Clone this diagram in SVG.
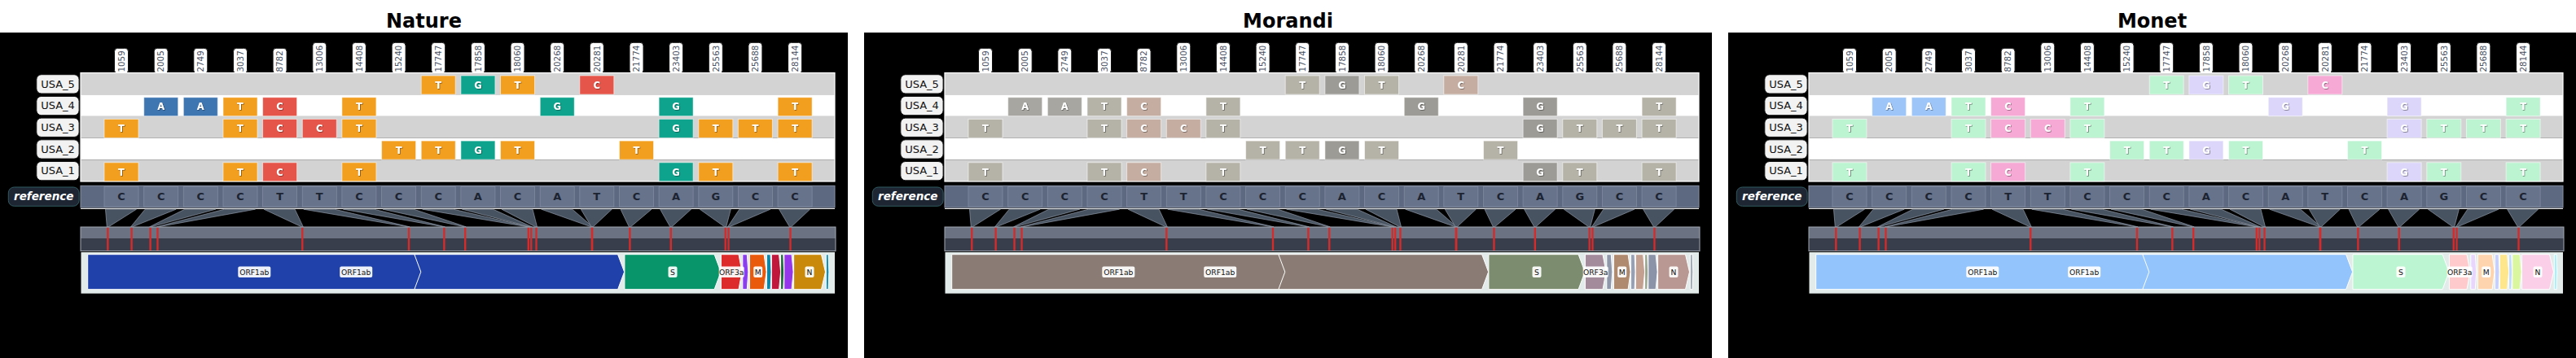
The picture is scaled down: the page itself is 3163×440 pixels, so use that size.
<svg xmlns="http://www.w3.org/2000/svg" width="3163" height="440" viewBox="0 0 3163 440">
<defs>
<filter id="sh" x="-30%" y="-30%" width="160%" height="160%"><feDropShadow dx="0.7" dy="0.7" stdDeviation="0.4" flood-color="#000" flood-opacity="0.55"/></filter>
<style>
text{font-family:"DejaVu Sans","Liberation Sans",sans-serif}
.title{font-size:24px;font-weight:bold;fill:#000;text-anchor:middle}
.bg{fill:#000}
.rowG{fill:#d3d3d3}
.rowW{fill:#fff}
.frame{fill:none;stroke:#fff;stroke-width:1.2}
.poslab{fill:#fff;stroke:#111;stroke-width:1}
.postx{font-size:10.3px;fill:#4a5263}
.rlab{fill:#f2f2f2;stroke:#111;stroke-width:1}
.rltx{font-size:13px;fill:#111;text-anchor:middle}
.cell{stroke:rgba(255,255,255,0.55);stroke-width:1}
.ctx{font-size:11.5px;font-weight:bold;fill:#fff;text-anchor:middle;filter:url(#sh)}
.refbar{fill:#5d6981;stroke:#8791a3;stroke-width:1}
.refcell{fill:#67738b;stroke:#7f8aa0;stroke-width:0.8}
.reftx{font-size:13px;font-weight:bold;fill:#1c2331;text-anchor:middle}
.reflab{fill:#1e2633;stroke:#2f5a60;stroke-width:1}
.refltx{font-size:13.5px;font-weight:bold;font-style:italic;fill:#fff;text-anchor:middle}
.wline{stroke:#fff;stroke-width:1}
.tri{fill:#485361;stroke:#8e98a6;stroke-width:0.7}
.ovt{fill:#6b7383}
.ovb{fill:#383e4c}
.ovf{fill:none;stroke:#a3a9b3;stroke-width:1}
.mk{fill:#d42b2b}
.gtrack{fill:#e3eaea}
.gene{stroke:#fff;stroke-width:1}
.glab{fill:#fff;fill-opacity:0.92}
.gltx{font-size:9.2px;fill:#111;text-anchor:middle}
.nat .cT{fill:#f29e1f}.nat .cC{fill:#e5554a}.nat .cA{fill:#3e76b2}.nat .cG{fill:#0ea38c}
.mor .cT{fill:#b5b3a7}.mor .cC{fill:#c5ada1}.mor .cA{fill:#a8a6a0}.mor .cG{fill:#9d9b95}
.mon .cT{fill:#bcf3d1}.mon .cC{fill:#f5a9d4}.mon .cA{fill:#9dc5f7}.mon .cG{fill:#dbd6fa}
.nat .g1{fill:#1f41a9}.nat .gS{fill:#079569}.nat .g3a{fill:#dd2a2a}.nat .gE{fill:#8b3ef0}.nat .gM{fill:#ea5a0c}.nat .g6{fill:#0f86a6}.nat .g7a{fill:#c0173d}.nat .g7b{fill:#166a38}.nat .g8{fill:#9636ea}.nat .gN{fill:#c98a0b}.nat .g10{fill:#1291b5}
.mor .g1{fill:#8a7c74}.mor .gS{fill:#7b8d6e}.mor .g3a{fill:#a38b9c}.mor .gE{fill:#8e98aa}.mor .gM{fill:#b08a6f}.mor .g6{fill:#96a1b6}.mor .g7a{fill:#c3a090}.mor .g7b{fill:#9aa590}.mor .g8{fill:#8b93a9}.mor .gN{fill:#b99893}.mor .g10{fill:#a3acb5}
.mon .g1{fill:#93c4fb}.mon .gS{fill:#bcf5d1}.mon .g3a{fill:#fecacb}.mon .gE{fill:#e9d6fd}.mon .gM{fill:#fdd4ad}.mon .g6{fill:#c6d0fb}.mon .g7a{fill:#fde68b}.mon .g7b{fill:#c1dbfd}.mon .g8{fill:#daf69e}.mon .gN{fill:#fbcfe7}.mon .g10{fill:#a6f1fb}
</style>
</defs>
<rect x="0" y="0" width="3163" height="440" fill="#fff"/>

<!-- ================= NATURE ================= -->
<g id="panel-nature" class="nat">
<text class="title" x="520.5" y="33.5">Nature</text>
<rect class="bg" x="0" y="40" width="1041" height="400"/>
<g id="nature-positions">
<rect class="poslab" x="140.5" y="59.3" width="17" height="31" rx="4"/><text class="postx" transform="translate(152.7,88.5) rotate(-90)">1059</text>
<rect class="poslab" x="189.2" y="59.3" width="17" height="31" rx="4"/><text class="postx" transform="translate(201.4,88.5) rotate(-90)">2005</text>
<rect class="poslab" x="237.8" y="59.3" width="17" height="31" rx="4"/><text class="postx" transform="translate(250.0,88.5) rotate(-90)">2749</text>
<rect class="poslab" x="286.5" y="59.3" width="17" height="31" rx="4"/><text class="postx" transform="translate(298.7,88.5) rotate(-90)">3037</text>
<rect class="poslab" x="335.1" y="59.3" width="17" height="31" rx="4"/><text class="postx" transform="translate(347.3,88.5) rotate(-90)">8782</text>
<rect class="poslab" x="383.8" y="52.3" width="17" height="38" rx="4"/><text class="postx" transform="translate(396.0,88.5) rotate(-90)">13006</text>
<rect class="poslab" x="432.4" y="52.3" width="17" height="38" rx="4"/><text class="postx" transform="translate(444.6,88.5) rotate(-90)">14408</text>
<rect class="poslab" x="481.1" y="52.3" width="17" height="38" rx="4"/><text class="postx" transform="translate(493.3,88.5) rotate(-90)">15240</text>
<rect class="poslab" x="529.7" y="52.3" width="17" height="38" rx="4"/><text class="postx" transform="translate(541.9,88.5) rotate(-90)">17747</text>
<rect class="poslab" x="578.4" y="52.3" width="17" height="38" rx="4"/><text class="postx" transform="translate(590.6,88.5) rotate(-90)">17858</text>
<rect class="poslab" x="627.0" y="52.3" width="17" height="38" rx="4"/><text class="postx" transform="translate(639.2,88.5) rotate(-90)">18060</text>
<rect class="poslab" x="675.7" y="52.3" width="17" height="38" rx="4"/><text class="postx" transform="translate(687.9,88.5) rotate(-90)">20268</text>
<rect class="poslab" x="724.3" y="52.3" width="17" height="38" rx="4"/><text class="postx" transform="translate(736.5,88.5) rotate(-90)">20281</text>
<rect class="poslab" x="773.0" y="52.3" width="17" height="38" rx="4"/><text class="postx" transform="translate(785.2,88.5) rotate(-90)">21774</text>
<rect class="poslab" x="821.6" y="52.3" width="17" height="38" rx="4"/><text class="postx" transform="translate(833.8,88.5) rotate(-90)">23403</text>
<rect class="poslab" x="870.3" y="52.3" width="17" height="38" rx="4"/><text class="postx" transform="translate(882.5,88.5) rotate(-90)">25563</text>
<rect class="poslab" x="918.9" y="52.3" width="17" height="38" rx="4"/><text class="postx" transform="translate(931.1,88.5) rotate(-90)">25688</text>
<rect class="poslab" x="967.6" y="52.3" width="17" height="38" rx="4"/><text class="postx" transform="translate(979.8,88.5) rotate(-90)">28144</text>
</g>
<g id="nature-matrix">
<rect class="rowG" x="99" y="89.5" width="926" height="26.7"/>
<rect class="rowW" x="99" y="116.2" width="926" height="26.7"/>
<rect class="rowG" x="99" y="142.9" width="926" height="26.7"/>
<rect class="rowW" x="99" y="169.6" width="926" height="26.7"/>
<rect class="rowG" x="99" y="196.3" width="926" height="26.7"/>
<rect class="frame" x="99" y="89.5" width="926" height="133.5"/>
<g id="nature-row-USA_5">
<rect class="rlab" x="44.8" y="91.7" width="52.3" height="23.3" rx="6"/><text class="rltx" x="71" y="107.5">USA_5</text>
<rect class="cell cT" x="517.2" y="93" width="42" height="23"/><text class="ctx" x="538.2" y="108.7">T</text>
<rect class="cell cG" x="565.9" y="93" width="42" height="23"/><text class="ctx" x="586.9" y="108.7">G</text>
<rect class="cell cT" x="614.5" y="93" width="42" height="23"/><text class="ctx" x="635.5" y="108.7">T</text>
<rect class="cell cC" x="711.8" y="93" width="42" height="23"/><text class="ctx" x="732.8" y="108.7">C</text>
</g>
<g id="nature-row-USA_4">
<rect class="rlab" x="44.8" y="118.4" width="52.3" height="23.3" rx="6"/><text class="rltx" x="71" y="134.2">USA_4</text>
<rect class="cell cA" x="176.7" y="119.7" width="42" height="23"/><text class="ctx" x="197.7" y="135.4">A</text>
<rect class="cell cA" x="225.3" y="119.7" width="42" height="23"/><text class="ctx" x="246.3" y="135.4">A</text>
<rect class="cell cT" x="274.0" y="119.7" width="42" height="23"/><text class="ctx" x="295.0" y="135.4">T</text>
<rect class="cell cC" x="322.6" y="119.7" width="42" height="23"/><text class="ctx" x="343.6" y="135.4">C</text>
<rect class="cell cT" x="419.9" y="119.7" width="42" height="23"/><text class="ctx" x="440.9" y="135.4">T</text>
<rect class="cell cG" x="663.2" y="119.7" width="42" height="23"/><text class="ctx" x="684.2" y="135.4">G</text>
<rect class="cell cG" x="809.1" y="119.7" width="42" height="23"/><text class="ctx" x="830.1" y="135.4">G</text>
<rect class="cell cT" x="955.1" y="119.7" width="42" height="23"/><text class="ctx" x="976.1" y="135.4">T</text>
</g>
<g id="nature-row-USA_3">
<rect class="rlab" x="44.8" y="145.1" width="52.3" height="23.3" rx="6"/><text class="rltx" x="71" y="160.9">USA_3</text>
<rect class="cell cT" x="128.0" y="146.4" width="42" height="23"/><text class="ctx" x="149.0" y="162.1">T</text>
<rect class="cell cT" x="274.0" y="146.4" width="42" height="23"/><text class="ctx" x="295.0" y="162.1">T</text>
<rect class="cell cC" x="322.6" y="146.4" width="42" height="23"/><text class="ctx" x="343.6" y="162.1">C</text>
<rect class="cell cC" x="371.3" y="146.4" width="42" height="23"/><text class="ctx" x="392.3" y="162.1">C</text>
<rect class="cell cT" x="419.9" y="146.4" width="42" height="23"/><text class="ctx" x="440.9" y="162.1">T</text>
<rect class="cell cG" x="809.1" y="146.4" width="42" height="23"/><text class="ctx" x="830.1" y="162.1">G</text>
<rect class="cell cT" x="857.8" y="146.4" width="42" height="23"/><text class="ctx" x="878.8" y="162.1">T</text>
<rect class="cell cT" x="906.4" y="146.4" width="42" height="23"/><text class="ctx" x="927.4" y="162.1">T</text>
<rect class="cell cT" x="955.1" y="146.4" width="42" height="23"/><text class="ctx" x="976.1" y="162.1">T</text>
</g>
<g id="nature-row-USA_2">
<rect class="rlab" x="44.8" y="171.8" width="52.3" height="23.3" rx="6"/><text class="rltx" x="71" y="187.6">USA_2</text>
<rect class="cell cT" x="468.6" y="173.1" width="42" height="23"/><text class="ctx" x="489.6" y="188.8">T</text>
<rect class="cell cT" x="517.2" y="173.1" width="42" height="23"/><text class="ctx" x="538.2" y="188.8">T</text>
<rect class="cell cG" x="565.9" y="173.1" width="42" height="23"/><text class="ctx" x="586.9" y="188.8">G</text>
<rect class="cell cT" x="614.5" y="173.1" width="42" height="23"/><text class="ctx" x="635.5" y="188.8">T</text>
<rect class="cell cT" x="760.5" y="173.1" width="42" height="23"/><text class="ctx" x="781.5" y="188.8">T</text>
</g>
<g id="nature-row-USA_1">
<rect class="rlab" x="44.8" y="198.5" width="52.3" height="23.3" rx="6"/><text class="rltx" x="71" y="214.3">USA_1</text>
<rect class="cell cT" x="128.0" y="199.8" width="42" height="23"/><text class="ctx" x="149.0" y="215.5">T</text>
<rect class="cell cT" x="274.0" y="199.8" width="42" height="23"/><text class="ctx" x="295.0" y="215.5">T</text>
<rect class="cell cC" x="322.6" y="199.8" width="42" height="23"/><text class="ctx" x="343.6" y="215.5">C</text>
<rect class="cell cT" x="419.9" y="199.8" width="42" height="23"/><text class="ctx" x="440.9" y="215.5">T</text>
<rect class="cell cG" x="809.1" y="199.8" width="42" height="23"/><text class="ctx" x="830.1" y="215.5">G</text>
<rect class="cell cT" x="857.8" y="199.8" width="42" height="23"/><text class="ctx" x="878.8" y="215.5">T</text>
<rect class="cell cT" x="955.1" y="199.8" width="42" height="23"/><text class="ctx" x="976.1" y="215.5">T</text>
</g>
</g>
<g id="nature-reference">
<rect class="reflab" x="10.3" y="230" width="86.8" height="23.3" rx="7"/><text class="refltx" x="53.7" y="246.3">reference</text>
<rect class="refbar" x="99" y="228.3" width="926" height="26.7"/>
<rect class="refcell" x="128.0" y="229.5" width="42" height="24.5"/><text class="reftx" x="149.0" y="246.4">C</text>
<rect class="refcell" x="176.7" y="229.5" width="42" height="24.5"/><text class="reftx" x="197.7" y="246.4">C</text>
<rect class="refcell" x="225.3" y="229.5" width="42" height="24.5"/><text class="reftx" x="246.3" y="246.4">C</text>
<rect class="refcell" x="274.0" y="229.5" width="42" height="24.5"/><text class="reftx" x="295.0" y="246.4">C</text>
<rect class="refcell" x="322.6" y="229.5" width="42" height="24.5"/><text class="reftx" x="343.6" y="246.4">T</text>
<rect class="refcell" x="371.3" y="229.5" width="42" height="24.5"/><text class="reftx" x="392.3" y="246.4">T</text>
<rect class="refcell" x="419.9" y="229.5" width="42" height="24.5"/><text class="reftx" x="440.9" y="246.4">C</text>
<rect class="refcell" x="468.6" y="229.5" width="42" height="24.5"/><text class="reftx" x="489.6" y="246.4">C</text>
<rect class="refcell" x="517.2" y="229.5" width="42" height="24.5"/><text class="reftx" x="538.2" y="246.4">C</text>
<rect class="refcell" x="565.9" y="229.5" width="42" height="24.5"/><text class="reftx" x="586.9" y="246.4">A</text>
<rect class="refcell" x="614.5" y="229.5" width="42" height="24.5"/><text class="reftx" x="635.5" y="246.4">C</text>
<rect class="refcell" x="663.2" y="229.5" width="42" height="24.5"/><text class="reftx" x="684.2" y="246.4">A</text>
<rect class="refcell" x="711.8" y="229.5" width="42" height="24.5"/><text class="reftx" x="732.8" y="246.4">T</text>
<rect class="refcell" x="760.5" y="229.5" width="42" height="24.5"/><text class="reftx" x="781.5" y="246.4">C</text>
<rect class="refcell" x="809.1" y="229.5" width="42" height="24.5"/><text class="reftx" x="830.1" y="246.4">A</text>
<rect class="refcell" x="857.8" y="229.5" width="42" height="24.5"/><text class="reftx" x="878.8" y="246.4">G</text>
<rect class="refcell" x="906.4" y="229.5" width="42" height="24.5"/><text class="reftx" x="927.4" y="246.4">C</text>
<rect class="refcell" x="955.1" y="229.5" width="42" height="24.5"/><text class="reftx" x="976.1" y="246.4">C</text>
<line class="wline" x1="99" y1="256.4" x2="1025" y2="256.4"/>
</g>
<g id="nature-connectors">
<polygon class="tri" points="129.5,257.2 167.5,257.2 133.3,278.8 131.3,278.8"/>
<polygon class="tri" points="178.2,257.2 216.2,257.2 162.6,278.8 160.6,278.8"/>
<polygon class="tri" points="226.8,257.2 264.8,257.2 185.6,278.8 183.6,278.8"/>
<polygon class="tri" points="275.5,257.2 313.5,257.2 194.5,278.8 192.5,278.8"/>
<polygon class="tri" points="324.1,257.2 362.1,257.2 372.3,278.8 370.3,278.8"/>
<polygon class="tri" points="372.8,257.2 410.8,257.2 503.0,278.8 501.0,278.8"/>
<polygon class="tri" points="421.4,257.2 459.4,257.2 546.4,278.8 544.4,278.8"/>
<polygon class="tri" points="470.1,257.2 508.1,257.2 572.2,278.8 570.2,278.8"/>
<polygon class="tri" points="518.7,257.2 556.7,257.2 649.8,278.8 647.8,278.8"/>
<polygon class="tri" points="567.4,257.2 605.4,257.2 653.2,278.8 651.2,278.8"/>
<polygon class="tri" points="616.0,257.2 654.0,257.2 659.5,278.8 657.5,278.8"/>
<polygon class="tri" points="664.7,257.2 702.7,257.2 727.8,278.8 725.8,278.8"/>
<polygon class="tri" points="713.3,257.2 751.3,257.2 728.2,278.8 726.2,278.8"/>
<polygon class="tri" points="762.0,257.2 800.0,257.2 774.4,278.8 772.4,278.8"/>
<polygon class="tri" points="810.6,257.2 848.6,257.2 824.8,278.8 822.8,278.8"/>
<polygon class="tri" points="859.3,257.2 897.3,257.2 891.7,278.8 889.7,278.8"/>
<polygon class="tri" points="907.9,257.2 945.9,257.2 895.5,278.8 893.5,278.8"/>
<polygon class="tri" points="956.6,257.2 994.6,257.2 971.5,278.8 969.5,278.8"/>
</g>
<g id="nature-overview">
<rect class="ovt" x="99" y="279" width="927" height="14.5"/>
<rect class="ovb" x="99" y="293.5" width="927" height="15"/>
<rect class="ovf" x="99" y="279" width="927" height="29.5"/>
<rect class="mk" x="131.1" y="279.8" width="2.4" height="28"/>
<rect class="mk" x="160.4" y="279.8" width="2.4" height="28"/>
<rect class="mk" x="183.4" y="279.8" width="2.4" height="28"/>
<rect class="mk" x="192.3" y="279.8" width="2.4" height="28"/>
<rect class="mk" x="370.1" y="279.8" width="2.4" height="28"/>
<rect class="mk" x="500.8" y="279.8" width="2.4" height="28"/>
<rect class="mk" x="544.2" y="279.8" width="2.4" height="28"/>
<rect class="mk" x="570.0" y="279.8" width="2.4" height="28"/>
<rect class="mk" x="647.6" y="279.8" width="2.4" height="28"/>
<rect class="mk" x="651.0" y="279.8" width="2.4" height="28"/>
<rect class="mk" x="657.3" y="279.8" width="2.4" height="28"/>
<rect class="mk" x="725.6" y="279.8" width="2.4" height="28"/>
<rect class="mk" x="726.0" y="279.8" width="2.4" height="28"/>
<rect class="mk" x="772.2" y="279.8" width="2.4" height="28"/>
<rect class="mk" x="822.6" y="279.8" width="2.4" height="28"/>
<rect class="mk" x="889.5" y="279.8" width="2.4" height="28"/>
<rect class="mk" x="893.3" y="279.8" width="2.4" height="28"/>
<rect class="mk" x="969.3" y="279.8" width="2.4" height="28"/>
</g>
<g id="nature-genes">
<rect class="gtrack" x="99.5" y="310" width="925.5" height="50.7"/>
<polygon class="gene g1" points="508.8,312.7 758.6,312.7 766.6,334.2 758.6,355.7 508.8,355.7"/>
<polygon class="gene g1" points="107.7,312.7 508.8,312.7 516.8,334.2 508.8,355.7 107.7,355.7"/>
<polygon class="gene gS" points="766.9,312.7 877.1,312.7 885.1,334.2 877.1,355.7 766.9,355.7"/>
<polygon class="gene g3a" points="885.4,312.7 907,312.7 911,334.2 907,355.7 885.4,355.7"/>
<polygon class="gene gE" points="911.8,312.7 917.3,312.7 918.8,334.2 917.3,355.7 911.8,355.7"/>
<polygon class="gene gM" points="920.4,312.7 938.1,312.7 941.1,334.2 938.1,355.7 920.4,355.7"/>
<polygon class="gene g6" points="941.4,312.7 946.1,312.7 947.1,334.2 946.1,355.7 941.4,355.7"/>
<polygon class="gene g7a" points="947.3,312.7 956.6,312.7 958.6,334.2 956.6,355.7 947.3,355.7"/>
<polygon class="gene g7b" points="958.6,312.7 961.8,312.7 962.6,334.2 961.8,355.7 958.6,355.7"/>
<polygon class="gene g8" points="962.8,312.7 972.1,312.7 974.1,334.2 972.1,355.7 962.8,355.7"/>
<polygon class="gene gN" points="974.6,312.7 1008.5,312.7 1013.5,334.2 1008.5,355.7 974.6,355.7"/>
<polygon class="gene g10" points="1014.3,312.7 1017.2,312.7 1017.9,334.2 1017.2,355.7 1014.3,355.7"/>
<rect class="glab" x="292.3" y="327.5" width="40" height="13.4" rx="2"/><text class="gltx" x="312.3" y="337.6">ORF1ab</text>
<rect class="glab" x="417.2" y="327.5" width="40" height="13.4" rx="2"/><text class="gltx" x="437.2" y="337.6">ORF1ab</text>
<rect class="glab" x="820.5" y="327.5" width="11" height="13.4" rx="2"/><text class="gltx" x="826" y="337.6">S</text>
<rect class="glab" x="882.7" y="327.5" width="31" height="13.4" rx="2"/><text class="gltx" x="898.2" y="337.6">ORF3a</text>
<rect class="glab" x="925.2" y="327.5" width="11" height="13.4" rx="2"/><text class="gltx" x="930.7" y="337.6">M</text>
<rect class="glab" x="988.5" y="327.5" width="11" height="13.4" rx="2"/><text class="gltx" x="994" y="337.6">N</text>
</g>
</g>

<!-- ================= MORANDI ================= -->
<g id="panel-morandi" class="mor" transform="translate(1061,0)">
<text class="title" x="520.5" y="33.5">Morandi</text>
<rect class="bg" x="0" y="40" width="1041" height="400"/>
<g id="morandi-positions">
<rect class="poslab" x="140.5" y="59.3" width="17" height="31" rx="4"/><text class="postx" transform="translate(152.7,88.5) rotate(-90)">1059</text>
<rect class="poslab" x="189.2" y="59.3" width="17" height="31" rx="4"/><text class="postx" transform="translate(201.4,88.5) rotate(-90)">2005</text>
<rect class="poslab" x="237.8" y="59.3" width="17" height="31" rx="4"/><text class="postx" transform="translate(250.0,88.5) rotate(-90)">2749</text>
<rect class="poslab" x="286.5" y="59.3" width="17" height="31" rx="4"/><text class="postx" transform="translate(298.7,88.5) rotate(-90)">3037</text>
<rect class="poslab" x="335.1" y="59.3" width="17" height="31" rx="4"/><text class="postx" transform="translate(347.3,88.5) rotate(-90)">8782</text>
<rect class="poslab" x="383.8" y="52.3" width="17" height="38" rx="4"/><text class="postx" transform="translate(396.0,88.5) rotate(-90)">13006</text>
<rect class="poslab" x="432.4" y="52.3" width="17" height="38" rx="4"/><text class="postx" transform="translate(444.6,88.5) rotate(-90)">14408</text>
<rect class="poslab" x="481.1" y="52.3" width="17" height="38" rx="4"/><text class="postx" transform="translate(493.3,88.5) rotate(-90)">15240</text>
<rect class="poslab" x="529.7" y="52.3" width="17" height="38" rx="4"/><text class="postx" transform="translate(541.9,88.5) rotate(-90)">17747</text>
<rect class="poslab" x="578.4" y="52.3" width="17" height="38" rx="4"/><text class="postx" transform="translate(590.6,88.5) rotate(-90)">17858</text>
<rect class="poslab" x="627.0" y="52.3" width="17" height="38" rx="4"/><text class="postx" transform="translate(639.2,88.5) rotate(-90)">18060</text>
<rect class="poslab" x="675.7" y="52.3" width="17" height="38" rx="4"/><text class="postx" transform="translate(687.9,88.5) rotate(-90)">20268</text>
<rect class="poslab" x="724.3" y="52.3" width="17" height="38" rx="4"/><text class="postx" transform="translate(736.5,88.5) rotate(-90)">20281</text>
<rect class="poslab" x="773.0" y="52.3" width="17" height="38" rx="4"/><text class="postx" transform="translate(785.2,88.5) rotate(-90)">21774</text>
<rect class="poslab" x="821.6" y="52.3" width="17" height="38" rx="4"/><text class="postx" transform="translate(833.8,88.5) rotate(-90)">23403</text>
<rect class="poslab" x="870.3" y="52.3" width="17" height="38" rx="4"/><text class="postx" transform="translate(882.5,88.5) rotate(-90)">25563</text>
<rect class="poslab" x="918.9" y="52.3" width="17" height="38" rx="4"/><text class="postx" transform="translate(931.1,88.5) rotate(-90)">25688</text>
<rect class="poslab" x="967.6" y="52.3" width="17" height="38" rx="4"/><text class="postx" transform="translate(979.8,88.5) rotate(-90)">28144</text>
</g>
<g id="morandi-matrix">
<rect class="rowG" x="99" y="89.5" width="926" height="26.7"/>
<rect class="rowW" x="99" y="116.2" width="926" height="26.7"/>
<rect class="rowG" x="99" y="142.9" width="926" height="26.7"/>
<rect class="rowW" x="99" y="169.6" width="926" height="26.7"/>
<rect class="rowG" x="99" y="196.3" width="926" height="26.7"/>
<rect class="frame" x="99" y="89.5" width="926" height="133.5"/>
<g id="morandi-row-USA_5">
<rect class="rlab" x="44.8" y="91.7" width="52.3" height="23.3" rx="6"/><text class="rltx" x="71" y="107.5">USA_5</text>
<rect class="cell cT" x="517.2" y="93" width="42" height="23"/><text class="ctx" x="538.2" y="108.7">T</text>
<rect class="cell cG" x="565.9" y="93" width="42" height="23"/><text class="ctx" x="586.9" y="108.7">G</text>
<rect class="cell cT" x="614.5" y="93" width="42" height="23"/><text class="ctx" x="635.5" y="108.7">T</text>
<rect class="cell cC" x="711.8" y="93" width="42" height="23"/><text class="ctx" x="732.8" y="108.7">C</text>
</g>
<g id="morandi-row-USA_4">
<rect class="rlab" x="44.8" y="118.4" width="52.3" height="23.3" rx="6"/><text class="rltx" x="71" y="134.2">USA_4</text>
<rect class="cell cA" x="176.7" y="119.7" width="42" height="23"/><text class="ctx" x="197.7" y="135.4">A</text>
<rect class="cell cA" x="225.3" y="119.7" width="42" height="23"/><text class="ctx" x="246.3" y="135.4">A</text>
<rect class="cell cT" x="274.0" y="119.7" width="42" height="23"/><text class="ctx" x="295.0" y="135.4">T</text>
<rect class="cell cC" x="322.6" y="119.7" width="42" height="23"/><text class="ctx" x="343.6" y="135.4">C</text>
<rect class="cell cT" x="419.9" y="119.7" width="42" height="23"/><text class="ctx" x="440.9" y="135.4">T</text>
<rect class="cell cG" x="663.2" y="119.7" width="42" height="23"/><text class="ctx" x="684.2" y="135.4">G</text>
<rect class="cell cG" x="809.1" y="119.7" width="42" height="23"/><text class="ctx" x="830.1" y="135.4">G</text>
<rect class="cell cT" x="955.1" y="119.7" width="42" height="23"/><text class="ctx" x="976.1" y="135.4">T</text>
</g>
<g id="morandi-row-USA_3">
<rect class="rlab" x="44.8" y="145.1" width="52.3" height="23.3" rx="6"/><text class="rltx" x="71" y="160.9">USA_3</text>
<rect class="cell cT" x="128.0" y="146.4" width="42" height="23"/><text class="ctx" x="149.0" y="162.1">T</text>
<rect class="cell cT" x="274.0" y="146.4" width="42" height="23"/><text class="ctx" x="295.0" y="162.1">T</text>
<rect class="cell cC" x="322.6" y="146.4" width="42" height="23"/><text class="ctx" x="343.6" y="162.1">C</text>
<rect class="cell cC" x="371.3" y="146.4" width="42" height="23"/><text class="ctx" x="392.3" y="162.1">C</text>
<rect class="cell cT" x="419.9" y="146.4" width="42" height="23"/><text class="ctx" x="440.9" y="162.1">T</text>
<rect class="cell cG" x="809.1" y="146.4" width="42" height="23"/><text class="ctx" x="830.1" y="162.1">G</text>
<rect class="cell cT" x="857.8" y="146.4" width="42" height="23"/><text class="ctx" x="878.8" y="162.1">T</text>
<rect class="cell cT" x="906.4" y="146.4" width="42" height="23"/><text class="ctx" x="927.4" y="162.1">T</text>
<rect class="cell cT" x="955.1" y="146.4" width="42" height="23"/><text class="ctx" x="976.1" y="162.1">T</text>
</g>
<g id="morandi-row-USA_2">
<rect class="rlab" x="44.8" y="171.8" width="52.3" height="23.3" rx="6"/><text class="rltx" x="71" y="187.6">USA_2</text>
<rect class="cell cT" x="468.6" y="173.1" width="42" height="23"/><text class="ctx" x="489.6" y="188.8">T</text>
<rect class="cell cT" x="517.2" y="173.1" width="42" height="23"/><text class="ctx" x="538.2" y="188.8">T</text>
<rect class="cell cG" x="565.9" y="173.1" width="42" height="23"/><text class="ctx" x="586.9" y="188.8">G</text>
<rect class="cell cT" x="614.5" y="173.1" width="42" height="23"/><text class="ctx" x="635.5" y="188.8">T</text>
<rect class="cell cT" x="760.5" y="173.1" width="42" height="23"/><text class="ctx" x="781.5" y="188.8">T</text>
</g>
<g id="morandi-row-USA_1">
<rect class="rlab" x="44.8" y="198.5" width="52.3" height="23.3" rx="6"/><text class="rltx" x="71" y="214.3">USA_1</text>
<rect class="cell cT" x="128.0" y="199.8" width="42" height="23"/><text class="ctx" x="149.0" y="215.5">T</text>
<rect class="cell cT" x="274.0" y="199.8" width="42" height="23"/><text class="ctx" x="295.0" y="215.5">T</text>
<rect class="cell cC" x="322.6" y="199.8" width="42" height="23"/><text class="ctx" x="343.6" y="215.5">C</text>
<rect class="cell cT" x="419.9" y="199.8" width="42" height="23"/><text class="ctx" x="440.9" y="215.5">T</text>
<rect class="cell cG" x="809.1" y="199.8" width="42" height="23"/><text class="ctx" x="830.1" y="215.5">G</text>
<rect class="cell cT" x="857.8" y="199.8" width="42" height="23"/><text class="ctx" x="878.8" y="215.5">T</text>
<rect class="cell cT" x="955.1" y="199.8" width="42" height="23"/><text class="ctx" x="976.1" y="215.5">T</text>
</g>
</g>
<g id="morandi-reference">
<rect class="reflab" x="10.3" y="230" width="86.8" height="23.3" rx="7"/><text class="refltx" x="53.7" y="246.3">reference</text>
<rect class="refbar" x="99" y="228.3" width="926" height="26.7"/>
<rect class="refcell" x="128.0" y="229.5" width="42" height="24.5"/><text class="reftx" x="149.0" y="246.4">C</text>
<rect class="refcell" x="176.7" y="229.5" width="42" height="24.5"/><text class="reftx" x="197.7" y="246.4">C</text>
<rect class="refcell" x="225.3" y="229.5" width="42" height="24.5"/><text class="reftx" x="246.3" y="246.4">C</text>
<rect class="refcell" x="274.0" y="229.5" width="42" height="24.5"/><text class="reftx" x="295.0" y="246.4">C</text>
<rect class="refcell" x="322.6" y="229.5" width="42" height="24.5"/><text class="reftx" x="343.6" y="246.4">T</text>
<rect class="refcell" x="371.3" y="229.5" width="42" height="24.5"/><text class="reftx" x="392.3" y="246.4">T</text>
<rect class="refcell" x="419.9" y="229.5" width="42" height="24.5"/><text class="reftx" x="440.9" y="246.4">C</text>
<rect class="refcell" x="468.6" y="229.5" width="42" height="24.5"/><text class="reftx" x="489.6" y="246.4">C</text>
<rect class="refcell" x="517.2" y="229.5" width="42" height="24.5"/><text class="reftx" x="538.2" y="246.4">C</text>
<rect class="refcell" x="565.9" y="229.5" width="42" height="24.5"/><text class="reftx" x="586.9" y="246.4">A</text>
<rect class="refcell" x="614.5" y="229.5" width="42" height="24.5"/><text class="reftx" x="635.5" y="246.4">C</text>
<rect class="refcell" x="663.2" y="229.5" width="42" height="24.5"/><text class="reftx" x="684.2" y="246.4">A</text>
<rect class="refcell" x="711.8" y="229.5" width="42" height="24.5"/><text class="reftx" x="732.8" y="246.4">T</text>
<rect class="refcell" x="760.5" y="229.5" width="42" height="24.5"/><text class="reftx" x="781.5" y="246.4">C</text>
<rect class="refcell" x="809.1" y="229.5" width="42" height="24.5"/><text class="reftx" x="830.1" y="246.4">A</text>
<rect class="refcell" x="857.8" y="229.5" width="42" height="24.5"/><text class="reftx" x="878.8" y="246.4">G</text>
<rect class="refcell" x="906.4" y="229.5" width="42" height="24.5"/><text class="reftx" x="927.4" y="246.4">C</text>
<rect class="refcell" x="955.1" y="229.5" width="42" height="24.5"/><text class="reftx" x="976.1" y="246.4">C</text>
<line class="wline" x1="99" y1="256.4" x2="1025" y2="256.4"/>
</g>
<g id="morandi-connectors">
<polygon class="tri" points="129.5,257.2 167.5,257.2 133.3,278.8 131.3,278.8"/>
<polygon class="tri" points="178.2,257.2 216.2,257.2 162.6,278.8 160.6,278.8"/>
<polygon class="tri" points="226.8,257.2 264.8,257.2 185.6,278.8 183.6,278.8"/>
<polygon class="tri" points="275.5,257.2 313.5,257.2 194.5,278.8 192.5,278.8"/>
<polygon class="tri" points="324.1,257.2 362.1,257.2 372.3,278.8 370.3,278.8"/>
<polygon class="tri" points="372.8,257.2 410.8,257.2 503.0,278.8 501.0,278.8"/>
<polygon class="tri" points="421.4,257.2 459.4,257.2 546.4,278.8 544.4,278.8"/>
<polygon class="tri" points="470.1,257.2 508.1,257.2 572.2,278.8 570.2,278.8"/>
<polygon class="tri" points="518.7,257.2 556.7,257.2 649.8,278.8 647.8,278.8"/>
<polygon class="tri" points="567.4,257.2 605.4,257.2 653.2,278.8 651.2,278.8"/>
<polygon class="tri" points="616.0,257.2 654.0,257.2 659.5,278.8 657.5,278.8"/>
<polygon class="tri" points="664.7,257.2 702.7,257.2 727.8,278.8 725.8,278.8"/>
<polygon class="tri" points="713.3,257.2 751.3,257.2 728.2,278.8 726.2,278.8"/>
<polygon class="tri" points="762.0,257.2 800.0,257.2 774.4,278.8 772.4,278.8"/>
<polygon class="tri" points="810.6,257.2 848.6,257.2 824.8,278.8 822.8,278.8"/>
<polygon class="tri" points="859.3,257.2 897.3,257.2 891.7,278.8 889.7,278.8"/>
<polygon class="tri" points="907.9,257.2 945.9,257.2 895.5,278.8 893.5,278.8"/>
<polygon class="tri" points="956.6,257.2 994.6,257.2 971.5,278.8 969.5,278.8"/>
</g>
<g id="morandi-overview">
<rect class="ovt" x="99" y="279" width="927" height="14.5"/>
<rect class="ovb" x="99" y="293.5" width="927" height="15"/>
<rect class="ovf" x="99" y="279" width="927" height="29.5"/>
<rect class="mk" x="131.1" y="279.8" width="2.4" height="28"/>
<rect class="mk" x="160.4" y="279.8" width="2.4" height="28"/>
<rect class="mk" x="183.4" y="279.8" width="2.4" height="28"/>
<rect class="mk" x="192.3" y="279.8" width="2.4" height="28"/>
<rect class="mk" x="370.1" y="279.8" width="2.4" height="28"/>
<rect class="mk" x="500.8" y="279.8" width="2.4" height="28"/>
<rect class="mk" x="544.2" y="279.8" width="2.4" height="28"/>
<rect class="mk" x="570.0" y="279.8" width="2.4" height="28"/>
<rect class="mk" x="647.6" y="279.8" width="2.4" height="28"/>
<rect class="mk" x="651.0" y="279.8" width="2.4" height="28"/>
<rect class="mk" x="657.3" y="279.8" width="2.4" height="28"/>
<rect class="mk" x="725.6" y="279.8" width="2.4" height="28"/>
<rect class="mk" x="726.0" y="279.8" width="2.4" height="28"/>
<rect class="mk" x="772.2" y="279.8" width="2.4" height="28"/>
<rect class="mk" x="822.6" y="279.8" width="2.4" height="28"/>
<rect class="mk" x="889.5" y="279.8" width="2.4" height="28"/>
<rect class="mk" x="893.3" y="279.8" width="2.4" height="28"/>
<rect class="mk" x="969.3" y="279.8" width="2.4" height="28"/>
</g>
<g id="morandi-genes">
<rect class="gtrack" x="99.5" y="310" width="925.5" height="50.7"/>
<polygon class="gene g1" points="508.8,312.7 758.6,312.7 766.6,334.2 758.6,355.7 508.8,355.7"/>
<polygon class="gene g1" points="107.7,312.7 508.8,312.7 516.8,334.2 508.8,355.7 107.7,355.7"/>
<polygon class="gene gS" points="766.9,312.7 877.1,312.7 885.1,334.2 877.1,355.7 766.9,355.7"/>
<polygon class="gene g3a" points="885.4,312.7 907,312.7 911,334.2 907,355.7 885.4,355.7"/>
<polygon class="gene gE" points="911.8,312.7 917.3,312.7 918.8,334.2 917.3,355.7 911.8,355.7"/>
<polygon class="gene gM" points="920.4,312.7 938.1,312.7 941.1,334.2 938.1,355.7 920.4,355.7"/>
<polygon class="gene g6" points="941.4,312.7 946.1,312.7 947.1,334.2 946.1,355.7 941.4,355.7"/>
<polygon class="gene g7a" points="947.3,312.7 956.6,312.7 958.6,334.2 956.6,355.7 947.3,355.7"/>
<polygon class="gene g7b" points="958.6,312.7 961.8,312.7 962.6,334.2 961.8,355.7 958.6,355.7"/>
<polygon class="gene g8" points="962.8,312.7 972.1,312.7 974.1,334.2 972.1,355.7 962.8,355.7"/>
<polygon class="gene gN" points="974.6,312.7 1008.5,312.7 1013.5,334.2 1008.5,355.7 974.6,355.7"/>
<polygon class="gene g10" points="1014.3,312.7 1017.2,312.7 1017.9,334.2 1017.2,355.7 1014.3,355.7"/>
<rect class="glab" x="292.3" y="327.5" width="40" height="13.4" rx="2"/><text class="gltx" x="312.3" y="337.6">ORF1ab</text>
<rect class="glab" x="417.2" y="327.5" width="40" height="13.4" rx="2"/><text class="gltx" x="437.2" y="337.6">ORF1ab</text>
<rect class="glab" x="820.5" y="327.5" width="11" height="13.4" rx="2"/><text class="gltx" x="826" y="337.6">S</text>
<rect class="glab" x="882.7" y="327.5" width="31" height="13.4" rx="2"/><text class="gltx" x="898.2" y="337.6">ORF3a</text>
<rect class="glab" x="925.2" y="327.5" width="11" height="13.4" rx="2"/><text class="gltx" x="930.7" y="337.6">M</text>
<rect class="glab" x="988.5" y="327.5" width="11" height="13.4" rx="2"/><text class="gltx" x="994" y="337.6">N</text>
</g>
</g>

<!-- ================= MONET ================= -->
<g id="panel-monet" class="mon" transform="translate(2122,0)">
<text class="title" x="520.5" y="33.5">Monet</text>
<rect class="bg" x="0" y="40" width="1041" height="400"/>
<g id="monet-positions">
<rect class="poslab" x="140.5" y="59.3" width="17" height="31" rx="4"/><text class="postx" transform="translate(152.7,88.5) rotate(-90)">1059</text>
<rect class="poslab" x="189.2" y="59.3" width="17" height="31" rx="4"/><text class="postx" transform="translate(201.4,88.5) rotate(-90)">2005</text>
<rect class="poslab" x="237.8" y="59.3" width="17" height="31" rx="4"/><text class="postx" transform="translate(250.0,88.5) rotate(-90)">2749</text>
<rect class="poslab" x="286.5" y="59.3" width="17" height="31" rx="4"/><text class="postx" transform="translate(298.7,88.5) rotate(-90)">3037</text>
<rect class="poslab" x="335.1" y="59.3" width="17" height="31" rx="4"/><text class="postx" transform="translate(347.3,88.5) rotate(-90)">8782</text>
<rect class="poslab" x="383.8" y="52.3" width="17" height="38" rx="4"/><text class="postx" transform="translate(396.0,88.5) rotate(-90)">13006</text>
<rect class="poslab" x="432.4" y="52.3" width="17" height="38" rx="4"/><text class="postx" transform="translate(444.6,88.5) rotate(-90)">14408</text>
<rect class="poslab" x="481.1" y="52.3" width="17" height="38" rx="4"/><text class="postx" transform="translate(493.3,88.5) rotate(-90)">15240</text>
<rect class="poslab" x="529.7" y="52.3" width="17" height="38" rx="4"/><text class="postx" transform="translate(541.9,88.5) rotate(-90)">17747</text>
<rect class="poslab" x="578.4" y="52.3" width="17" height="38" rx="4"/><text class="postx" transform="translate(590.6,88.5) rotate(-90)">17858</text>
<rect class="poslab" x="627.0" y="52.3" width="17" height="38" rx="4"/><text class="postx" transform="translate(639.2,88.5) rotate(-90)">18060</text>
<rect class="poslab" x="675.7" y="52.3" width="17" height="38" rx="4"/><text class="postx" transform="translate(687.9,88.5) rotate(-90)">20268</text>
<rect class="poslab" x="724.3" y="52.3" width="17" height="38" rx="4"/><text class="postx" transform="translate(736.5,88.5) rotate(-90)">20281</text>
<rect class="poslab" x="773.0" y="52.3" width="17" height="38" rx="4"/><text class="postx" transform="translate(785.2,88.5) rotate(-90)">21774</text>
<rect class="poslab" x="821.6" y="52.3" width="17" height="38" rx="4"/><text class="postx" transform="translate(833.8,88.5) rotate(-90)">23403</text>
<rect class="poslab" x="870.3" y="52.3" width="17" height="38" rx="4"/><text class="postx" transform="translate(882.5,88.5) rotate(-90)">25563</text>
<rect class="poslab" x="918.9" y="52.3" width="17" height="38" rx="4"/><text class="postx" transform="translate(931.1,88.5) rotate(-90)">25688</text>
<rect class="poslab" x="967.6" y="52.3" width="17" height="38" rx="4"/><text class="postx" transform="translate(979.8,88.5) rotate(-90)">28144</text>
</g>
<g id="monet-matrix">
<rect class="rowG" x="99" y="89.5" width="926" height="26.7"/>
<rect class="rowW" x="99" y="116.2" width="926" height="26.7"/>
<rect class="rowG" x="99" y="142.9" width="926" height="26.7"/>
<rect class="rowW" x="99" y="169.6" width="926" height="26.7"/>
<rect class="rowG" x="99" y="196.3" width="926" height="26.7"/>
<rect class="frame" x="99" y="89.5" width="926" height="133.5"/>
<g id="monet-row-USA_5">
<rect class="rlab" x="44.8" y="91.7" width="52.3" height="23.3" rx="6"/><text class="rltx" x="71" y="107.5">USA_5</text>
<rect class="cell cT" x="517.2" y="93" width="42" height="23"/><text class="ctx" x="538.2" y="108.7">T</text>
<rect class="cell cG" x="565.9" y="93" width="42" height="23"/><text class="ctx" x="586.9" y="108.7">G</text>
<rect class="cell cT" x="614.5" y="93" width="42" height="23"/><text class="ctx" x="635.5" y="108.7">T</text>
<rect class="cell cC" x="711.8" y="93" width="42" height="23"/><text class="ctx" x="732.8" y="108.7">C</text>
</g>
<g id="monet-row-USA_4">
<rect class="rlab" x="44.8" y="118.4" width="52.3" height="23.3" rx="6"/><text class="rltx" x="71" y="134.2">USA_4</text>
<rect class="cell cA" x="176.7" y="119.7" width="42" height="23"/><text class="ctx" x="197.7" y="135.4">A</text>
<rect class="cell cA" x="225.3" y="119.7" width="42" height="23"/><text class="ctx" x="246.3" y="135.4">A</text>
<rect class="cell cT" x="274.0" y="119.7" width="42" height="23"/><text class="ctx" x="295.0" y="135.4">T</text>
<rect class="cell cC" x="322.6" y="119.7" width="42" height="23"/><text class="ctx" x="343.6" y="135.4">C</text>
<rect class="cell cT" x="419.9" y="119.7" width="42" height="23"/><text class="ctx" x="440.9" y="135.4">T</text>
<rect class="cell cG" x="663.2" y="119.7" width="42" height="23"/><text class="ctx" x="684.2" y="135.4">G</text>
<rect class="cell cG" x="809.1" y="119.7" width="42" height="23"/><text class="ctx" x="830.1" y="135.4">G</text>
<rect class="cell cT" x="955.1" y="119.7" width="42" height="23"/><text class="ctx" x="976.1" y="135.4">T</text>
</g>
<g id="monet-row-USA_3">
<rect class="rlab" x="44.8" y="145.1" width="52.3" height="23.3" rx="6"/><text class="rltx" x="71" y="160.9">USA_3</text>
<rect class="cell cT" x="128.0" y="146.4" width="42" height="23"/><text class="ctx" x="149.0" y="162.1">T</text>
<rect class="cell cT" x="274.0" y="146.4" width="42" height="23"/><text class="ctx" x="295.0" y="162.1">T</text>
<rect class="cell cC" x="322.6" y="146.4" width="42" height="23"/><text class="ctx" x="343.6" y="162.1">C</text>
<rect class="cell cC" x="371.3" y="146.4" width="42" height="23"/><text class="ctx" x="392.3" y="162.1">C</text>
<rect class="cell cT" x="419.9" y="146.4" width="42" height="23"/><text class="ctx" x="440.9" y="162.1">T</text>
<rect class="cell cG" x="809.1" y="146.4" width="42" height="23"/><text class="ctx" x="830.1" y="162.1">G</text>
<rect class="cell cT" x="857.8" y="146.4" width="42" height="23"/><text class="ctx" x="878.8" y="162.1">T</text>
<rect class="cell cT" x="906.4" y="146.4" width="42" height="23"/><text class="ctx" x="927.4" y="162.1">T</text>
<rect class="cell cT" x="955.1" y="146.4" width="42" height="23"/><text class="ctx" x="976.1" y="162.1">T</text>
</g>
<g id="monet-row-USA_2">
<rect class="rlab" x="44.8" y="171.8" width="52.3" height="23.3" rx="6"/><text class="rltx" x="71" y="187.6">USA_2</text>
<rect class="cell cT" x="468.6" y="173.1" width="42" height="23"/><text class="ctx" x="489.6" y="188.8">T</text>
<rect class="cell cT" x="517.2" y="173.1" width="42" height="23"/><text class="ctx" x="538.2" y="188.8">T</text>
<rect class="cell cG" x="565.9" y="173.1" width="42" height="23"/><text class="ctx" x="586.9" y="188.8">G</text>
<rect class="cell cT" x="614.5" y="173.1" width="42" height="23"/><text class="ctx" x="635.5" y="188.8">T</text>
<rect class="cell cT" x="760.5" y="173.1" width="42" height="23"/><text class="ctx" x="781.5" y="188.8">T</text>
</g>
<g id="monet-row-USA_1">
<rect class="rlab" x="44.8" y="198.5" width="52.3" height="23.3" rx="6"/><text class="rltx" x="71" y="214.3">USA_1</text>
<rect class="cell cT" x="128.0" y="199.8" width="42" height="23"/><text class="ctx" x="149.0" y="215.5">T</text>
<rect class="cell cT" x="274.0" y="199.8" width="42" height="23"/><text class="ctx" x="295.0" y="215.5">T</text>
<rect class="cell cC" x="322.6" y="199.8" width="42" height="23"/><text class="ctx" x="343.6" y="215.5">C</text>
<rect class="cell cT" x="419.9" y="199.8" width="42" height="23"/><text class="ctx" x="440.9" y="215.5">T</text>
<rect class="cell cG" x="809.1" y="199.8" width="42" height="23"/><text class="ctx" x="830.1" y="215.5">G</text>
<rect class="cell cT" x="857.8" y="199.8" width="42" height="23"/><text class="ctx" x="878.8" y="215.5">T</text>
<rect class="cell cT" x="955.1" y="199.8" width="42" height="23"/><text class="ctx" x="976.1" y="215.5">T</text>
</g>
</g>
<g id="monet-reference">
<rect class="reflab" x="10.3" y="230" width="86.8" height="23.3" rx="7"/><text class="refltx" x="53.7" y="246.3">reference</text>
<rect class="refbar" x="99" y="228.3" width="926" height="26.7"/>
<rect class="refcell" x="128.0" y="229.5" width="42" height="24.5"/><text class="reftx" x="149.0" y="246.4">C</text>
<rect class="refcell" x="176.7" y="229.5" width="42" height="24.5"/><text class="reftx" x="197.7" y="246.4">C</text>
<rect class="refcell" x="225.3" y="229.5" width="42" height="24.5"/><text class="reftx" x="246.3" y="246.4">C</text>
<rect class="refcell" x="274.0" y="229.5" width="42" height="24.5"/><text class="reftx" x="295.0" y="246.4">C</text>
<rect class="refcell" x="322.6" y="229.5" width="42" height="24.5"/><text class="reftx" x="343.6" y="246.4">T</text>
<rect class="refcell" x="371.3" y="229.5" width="42" height="24.5"/><text class="reftx" x="392.3" y="246.4">T</text>
<rect class="refcell" x="419.9" y="229.5" width="42" height="24.5"/><text class="reftx" x="440.9" y="246.4">C</text>
<rect class="refcell" x="468.6" y="229.5" width="42" height="24.5"/><text class="reftx" x="489.6" y="246.4">C</text>
<rect class="refcell" x="517.2" y="229.5" width="42" height="24.5"/><text class="reftx" x="538.2" y="246.4">C</text>
<rect class="refcell" x="565.9" y="229.5" width="42" height="24.5"/><text class="reftx" x="586.9" y="246.4">A</text>
<rect class="refcell" x="614.5" y="229.5" width="42" height="24.5"/><text class="reftx" x="635.5" y="246.4">C</text>
<rect class="refcell" x="663.2" y="229.5" width="42" height="24.5"/><text class="reftx" x="684.2" y="246.4">A</text>
<rect class="refcell" x="711.8" y="229.5" width="42" height="24.5"/><text class="reftx" x="732.8" y="246.4">T</text>
<rect class="refcell" x="760.5" y="229.5" width="42" height="24.5"/><text class="reftx" x="781.5" y="246.4">C</text>
<rect class="refcell" x="809.1" y="229.5" width="42" height="24.5"/><text class="reftx" x="830.1" y="246.4">A</text>
<rect class="refcell" x="857.8" y="229.5" width="42" height="24.5"/><text class="reftx" x="878.8" y="246.4">G</text>
<rect class="refcell" x="906.4" y="229.5" width="42" height="24.5"/><text class="reftx" x="927.4" y="246.4">C</text>
<rect class="refcell" x="955.1" y="229.5" width="42" height="24.5"/><text class="reftx" x="976.1" y="246.4">C</text>
<line class="wline" x1="99" y1="256.4" x2="1025" y2="256.4"/>
</g>
<g id="monet-connectors">
<polygon class="tri" points="129.5,257.2 167.5,257.2 133.3,278.8 131.3,278.8"/>
<polygon class="tri" points="178.2,257.2 216.2,257.2 162.6,278.8 160.6,278.8"/>
<polygon class="tri" points="226.8,257.2 264.8,257.2 185.6,278.8 183.6,278.8"/>
<polygon class="tri" points="275.5,257.2 313.5,257.2 194.5,278.8 192.5,278.8"/>
<polygon class="tri" points="324.1,257.2 362.1,257.2 372.3,278.8 370.3,278.8"/>
<polygon class="tri" points="372.8,257.2 410.8,257.2 503.0,278.8 501.0,278.8"/>
<polygon class="tri" points="421.4,257.2 459.4,257.2 546.4,278.8 544.4,278.8"/>
<polygon class="tri" points="470.1,257.2 508.1,257.2 572.2,278.8 570.2,278.8"/>
<polygon class="tri" points="518.7,257.2 556.7,257.2 649.8,278.8 647.8,278.8"/>
<polygon class="tri" points="567.4,257.2 605.4,257.2 653.2,278.8 651.2,278.8"/>
<polygon class="tri" points="616.0,257.2 654.0,257.2 659.5,278.8 657.5,278.8"/>
<polygon class="tri" points="664.7,257.2 702.7,257.2 727.8,278.8 725.8,278.8"/>
<polygon class="tri" points="713.3,257.2 751.3,257.2 728.2,278.8 726.2,278.8"/>
<polygon class="tri" points="762.0,257.2 800.0,257.2 774.4,278.8 772.4,278.8"/>
<polygon class="tri" points="810.6,257.2 848.6,257.2 824.8,278.8 822.8,278.8"/>
<polygon class="tri" points="859.3,257.2 897.3,257.2 891.7,278.8 889.7,278.8"/>
<polygon class="tri" points="907.9,257.2 945.9,257.2 895.5,278.8 893.5,278.8"/>
<polygon class="tri" points="956.6,257.2 994.6,257.2 971.5,278.8 969.5,278.8"/>
</g>
<g id="monet-overview">
<rect class="ovt" x="99" y="279" width="927" height="14.5"/>
<rect class="ovb" x="99" y="293.5" width="927" height="15"/>
<rect class="ovf" x="99" y="279" width="927" height="29.5"/>
<rect class="mk" x="131.1" y="279.8" width="2.4" height="28"/>
<rect class="mk" x="160.4" y="279.8" width="2.4" height="28"/>
<rect class="mk" x="183.4" y="279.8" width="2.4" height="28"/>
<rect class="mk" x="192.3" y="279.8" width="2.4" height="28"/>
<rect class="mk" x="370.1" y="279.8" width="2.4" height="28"/>
<rect class="mk" x="500.8" y="279.8" width="2.4" height="28"/>
<rect class="mk" x="544.2" y="279.8" width="2.4" height="28"/>
<rect class="mk" x="570.0" y="279.8" width="2.4" height="28"/>
<rect class="mk" x="647.6" y="279.8" width="2.4" height="28"/>
<rect class="mk" x="651.0" y="279.8" width="2.4" height="28"/>
<rect class="mk" x="657.3" y="279.8" width="2.4" height="28"/>
<rect class="mk" x="725.6" y="279.8" width="2.4" height="28"/>
<rect class="mk" x="726.0" y="279.8" width="2.4" height="28"/>
<rect class="mk" x="772.2" y="279.8" width="2.4" height="28"/>
<rect class="mk" x="822.6" y="279.8" width="2.4" height="28"/>
<rect class="mk" x="889.5" y="279.8" width="2.4" height="28"/>
<rect class="mk" x="893.3" y="279.8" width="2.4" height="28"/>
<rect class="mk" x="969.3" y="279.8" width="2.4" height="28"/>
</g>
<g id="monet-genes">
<rect class="gtrack" x="99.5" y="310" width="925.5" height="50.7"/>
<polygon class="gene g1" points="508.8,312.7 758.6,312.7 766.6,334.2 758.6,355.7 508.8,355.7"/>
<polygon class="gene g1" points="107.7,312.7 508.8,312.7 516.8,334.2 508.8,355.7 107.7,355.7"/>
<polygon class="gene gS" points="766.9,312.7 877.1,312.7 885.1,334.2 877.1,355.7 766.9,355.7"/>
<polygon class="gene g3a" points="885.4,312.7 907,312.7 911,334.2 907,355.7 885.4,355.7"/>
<polygon class="gene gE" points="911.8,312.7 917.3,312.7 918.8,334.2 917.3,355.7 911.8,355.7"/>
<polygon class="gene gM" points="920.4,312.7 938.1,312.7 941.1,334.2 938.1,355.7 920.4,355.7"/>
<polygon class="gene g6" points="941.4,312.7 946.1,312.7 947.1,334.2 946.1,355.7 941.4,355.7"/>
<polygon class="gene g7a" points="947.3,312.7 956.6,312.7 958.6,334.2 956.6,355.7 947.3,355.7"/>
<polygon class="gene g7b" points="958.6,312.7 961.8,312.7 962.6,334.2 961.8,355.7 958.6,355.7"/>
<polygon class="gene g8" points="962.8,312.7 972.1,312.7 974.1,334.2 972.1,355.7 962.8,355.7"/>
<polygon class="gene gN" points="974.6,312.7 1008.5,312.7 1013.5,334.2 1008.5,355.7 974.6,355.7"/>
<polygon class="gene g10" points="1014.3,312.7 1017.2,312.7 1017.9,334.2 1017.2,355.7 1014.3,355.7"/>
<rect class="glab" x="292.3" y="327.5" width="40" height="13.4" rx="2"/><text class="gltx" x="312.3" y="337.6">ORF1ab</text>
<rect class="glab" x="417.2" y="327.5" width="40" height="13.4" rx="2"/><text class="gltx" x="437.2" y="337.6">ORF1ab</text>
<rect class="glab" x="820.5" y="327.5" width="11" height="13.4" rx="2"/><text class="gltx" x="826" y="337.6">S</text>
<rect class="glab" x="882.7" y="327.5" width="31" height="13.4" rx="2"/><text class="gltx" x="898.2" y="337.6">ORF3a</text>
<rect class="glab" x="925.2" y="327.5" width="11" height="13.4" rx="2"/><text class="gltx" x="930.7" y="337.6">M</text>
<rect class="glab" x="988.5" y="327.5" width="11" height="13.4" rx="2"/><text class="gltx" x="994" y="337.6">N</text>
</g>
</g>
</svg>
